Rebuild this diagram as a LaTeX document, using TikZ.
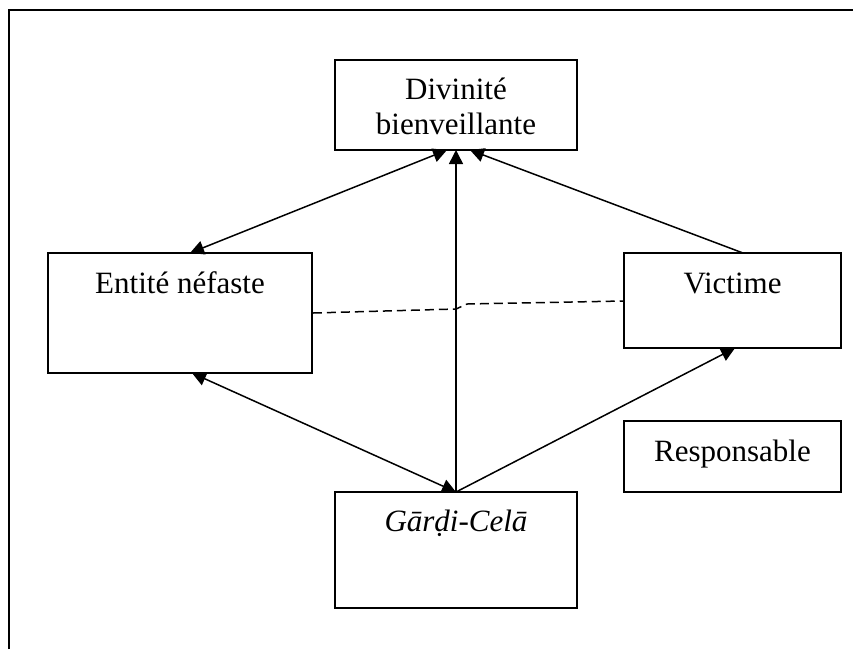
\documentclass[tikz,border=0pt]{standalone}
\usepackage{fontspec}
\setmainfont{Liberation Serif}
\usetikzlibrary{arrows.meta,calc,fit}
\begin{document}
\begin{tikzpicture}[x=1pt,y=-1pt,
  box/.style={draw,line width=1.8pt,inner sep=0pt},
  lbl/.style={anchor=base,inner sep=0pt,font=\fontsize{31}{36}\selectfont},
  link/.style={line width=1.5pt},
  tip/.style={-{Triangle[length=14pt,width=14pt]}},
  tips/.style={{Triangle[length=14pt,width=14pt]}-{Triangle[length=14pt,width=14pt]}}]
\useasboundingbox (0,0) rectangle (853,649);

% frame
\draw[line width=2.5pt] (9,649) -- (9,10) -- (853,10);

% boxes
\node[box,fit={(335,60) (577,150)}] (div) {};
\node[box,fit={(48,253) (312,373)}] (ent) {};
\node[box,fit={(624,253) (841,348)}] (vic) {};
\node[box,fit={(624,421) (841,492)}] (res) {};
\node[box,fit={(335,492) (577,608)}] (gar) {};

% texts (baselines measured from the top edge of each box)
\node[lbl] (divt) at ($(div.north)+(0,40)$) {Divinité};
\node[lbl] (divu) at ($(div.north)+(0,75)$) {bienveillante};
\node[lbl] (entt) at ($(ent.north)+(0,41)$) {Entité néfaste};
\node[lbl] (vict) at ($(vic.north)+(0,41)$) {Victime};
\node[lbl] (rest) at ($(res.north)+(0,41)$) {Responsable};
\node[lbl] (gart) at ($(gar.north)+(0,40)$) {\itshape Gārḍi-Celā};

% anchor points on box edges
\coordinate (d1) at (447,150);
\coordinate (d2) at (456,150);
\coordinate (d3) at (470,150);
\coordinate (e1) at (190,253);
\coordinate (e2) at (192,373);
\coordinate (g)  at (456,492);
\coordinate (v1) at (735,348);
\coordinate (v2) at (743,253);

% connectors
\draw[link,tips] (d1) -- (e1);
\draw[link,tips] (e2) -- (g);
\draw[link,tip] (g) -- (d2);
\draw[link,tip] (g) -- (v1);
\draw[link,tip] (v2) -- (d3);

% dashed link between the two side boxes
\coordinate (k1) at (456,309);
\coordinate (k2) at (467,304);
\draw[line width=1.5pt,dash pattern=on 9pt off 5pt] (ent.east |- 0,313) -- (k1) -- (k2) -- (vic.west |- 0,301);
\end{tikzpicture}
\end{document}
